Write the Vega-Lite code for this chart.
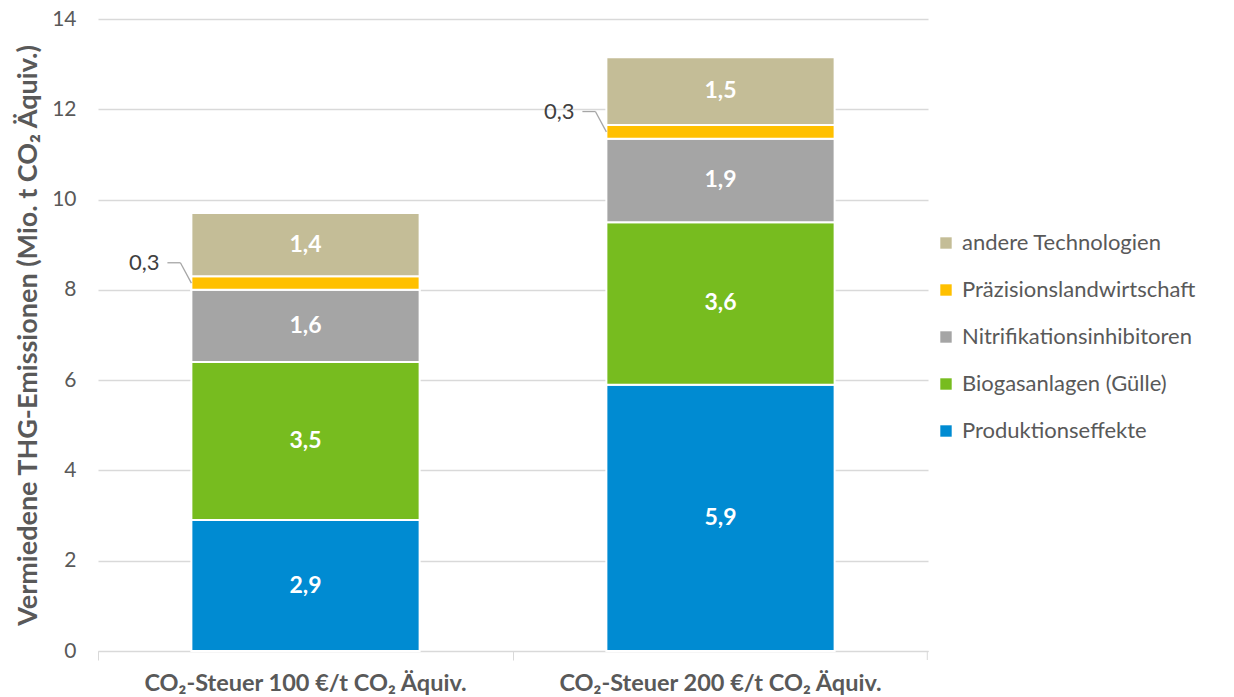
{
  "$schema": "https://vega.github.io/schema/vega-lite/v6.json",
  "width": 830,
  "height": 632,
  "autosize": {"type": "none"},
  "padding": {"left": 98, "top": 19, "right": 306, "bottom": 46},
  "config": {
    "view": {"stroke": null},
    "font": "Lato",
    "locale": {"number": {"decimal": ",", "thousands": ".", "grouping": [3], "currency": ["", " €"]}}
  },
  "data": {
    "values": [
      {"scenario": "CO₂-Steuer 100 €/t CO₂ Äquiv.", "category": "Produktionseffekte", "value": 2.9},
      {"scenario": "CO₂-Steuer 100 €/t CO₂ Äquiv.", "category": "Biogasanlagen (Gülle)", "value": 3.5},
      {"scenario": "CO₂-Steuer 100 €/t CO₂ Äquiv.", "category": "Nitrifikationsinhibitoren", "value": 1.6},
      {"scenario": "CO₂-Steuer 100 €/t CO₂ Äquiv.", "category": "Präzisionslandwirtschaft", "value": 0.3},
      {"scenario": "CO₂-Steuer 100 €/t CO₂ Äquiv.", "category": "andere Technologien", "value": 1.4},
      {"scenario": "CO₂-Steuer 200 €/t CO₂ Äquiv.", "category": "Produktionseffekte", "value": 5.9},
      {"scenario": "CO₂-Steuer 200 €/t CO₂ Äquiv.", "category": "Biogasanlagen (Gülle)", "value": 3.6},
      {"scenario": "CO₂-Steuer 200 €/t CO₂ Äquiv.", "category": "Nitrifikationsinhibitoren", "value": 1.85},
      {"scenario": "CO₂-Steuer 200 €/t CO₂ Äquiv.", "category": "Präzisionslandwirtschaft", "value": 0.3},
      {"scenario": "CO₂-Steuer 200 €/t CO₂ Äquiv.", "category": "andere Technologien", "value": 1.5}
    ]
  },
  "transform": [
    {"calculate": "indexof(['Produktionseffekte','Biogasanlagen (Gülle)','Nitrifikationsinhibitoren','Präzisionslandwirtschaft','andere Technologien'], datum.category)", "as": "idx"},
    {"stack": "value", "groupby": ["scenario"], "sort": [{"field": "idx", "order": "ascending"}], "as": ["y0", "y1"]},
    {"calculate": "(datum.y0 + datum.y1) / 2", "as": "mid"},
    {"calculate": "datum.y1 + 0.3", "as": "calloutY"}
  ],
  "encoding": {
    "x": {
      "field": "scenario",
      "type": "nominal",
      "sort": null,
      "scale": {"paddingInner": 0.45, "paddingOuter": 0.225},
      "axis": {
        "title": null,
        "labelAngle": 0,
        "labelFontSize": 23.5,
        "labelFontWeight": "bold",
        "labelColor": "#595959",
        "labelPadding": 11,
        "labelLimit": 0,
        "bandPosition": -0.406,
        "labelOffset": 0,
        "domainColor": "#d9d9d9",
        "domainWidth": 1,
        "tickColor": "#d9d9d9",
        "tickSize": 9,
        "grid": false
      }
    }
  },
  "layer": [
    {
      "mark": {"type": "bar", "stroke": "white", "strokeWidth": 2},
      "encoding": {
        "y": {
          "field": "y0",
          "type": "quantitative",
          "scale": {"domain": [0, 14]},
          "axis": {
            "title": "Vermiedene THG-Emissionen (Mio. t CO₂ Äquiv.)",
            "titleFontSize": 27,
            "titleFontWeight": "bold",
            "titleColor": "#595959",
            "titlePadding": 9,
            "values": [0, 2, 4, 6, 8, 10, 12, 14],
            "labelFontSize": 21,
            "labelColor": "#595959",
            "labelPadding": 22,
            "domain": false,
            "ticks": false,
            "grid": true,
            "gridColor": "#d9d9d9",
            "gridWidth": 1.3
          }
        },
        "y2": {"field": "y1"},
        "color": {
          "field": "category",
          "type": "nominal",
          "scale": {
            "domain": ["andere Technologien", "Präzisionslandwirtschaft", "Nitrifikationsinhibitoren", "Biogasanlagen (Gülle)", "Produktionseffekte"],
            "range": ["#c4bd97", "#ffc000", "#a5a5a5", "#77bc1f", "#008bd2"]
          },
          "legend": {
            "title": null,
            "orient": "none",
            "legendX": 837,
            "legendY": 213,
            "padding": 0,
            "symbolType": "square",
            "symbolSize": 130,
            "symbolStrokeWidth": 0,
            "labelFontSize": 22,
            "labelColor": "#595959",
            "labelOffset": 5,
            "labelLimit": 0,
            "rowPadding": 25
          }
        },
        "order": {"field": "idx", "type": "quantitative"}
      }
    },
    {
      "transform": [{"filter": "datum.category !== 'Präzisionslandwirtschaft'"}],
      "mark": {"type": "text", "color": "white", "fontWeight": "bold", "fontSize": 23, "baseline": "middle", "align": "center"},
      "encoding": {
        "y": {"field": "mid", "type": "quantitative"},
        "text": {"field": "value", "type": "quantitative", "format": ".1f"}
      }
    },
    {
      "transform": [{"filter": "datum.category === 'Präzisionslandwirtschaft'"}],
      "mark": {"type": "rule", "color": "#a6a6a6", "strokeWidth": 1.3},
      "encoding": {
        "x": {"field": "scenario", "type": "nominal", "sort": null, "bandPosition": 0},
        "x2": {"field": "scenario", "bandPosition": -0.048},
        "y": {"field": "mid", "type": "quantitative"},
        "y2": {"field": "calloutY"}
      }
    },
    {
      "transform": [{"filter": "datum.category === 'Präzisionslandwirtschaft'"}],
      "mark": {"type": "rule", "color": "#a6a6a6", "strokeWidth": 1.3},
      "encoding": {
        "x": {"field": "scenario", "type": "nominal", "sort": null, "bandPosition": -0.048},
        "x2": {"field": "scenario", "bandPosition": -0.105},
        "y": {"field": "calloutY", "type": "quantitative"}
      }
    },
    {
      "transform": [{"filter": "datum.category === 'Präzisionslandwirtschaft'"}],
      "mark": {"type": "text", "color": "#404040", "fontSize": 22, "baseline": "middle", "align": "right"},
      "encoding": {
        "x": {"field": "scenario", "type": "nominal", "sort": null, "bandPosition": -0.14},
        "y": {"field": "calloutY", "type": "quantitative"},
        "text": {"field": "value", "type": "quantitative", "format": ".1f"}
      }
    },
    {
      "transform": [{"filter": "datum.category === 'Produktionseffekte' && datum.scenario === 'CO₂-Steuer 200 €/t CO₂ Äquiv.'"}],
      "mark": {"type": "rule", "color": "#d9d9d9", "strokeWidth": 1, "y2Offset": 9},
      "encoding": {
        "x": {"field": "scenario", "type": "nominal", "sort": null, "bandPosition": 1.406},
        "y": {"datum": 0, "type": "quantitative"},
        "y2": {"datum": 0}
      }
    }
  ]
}
